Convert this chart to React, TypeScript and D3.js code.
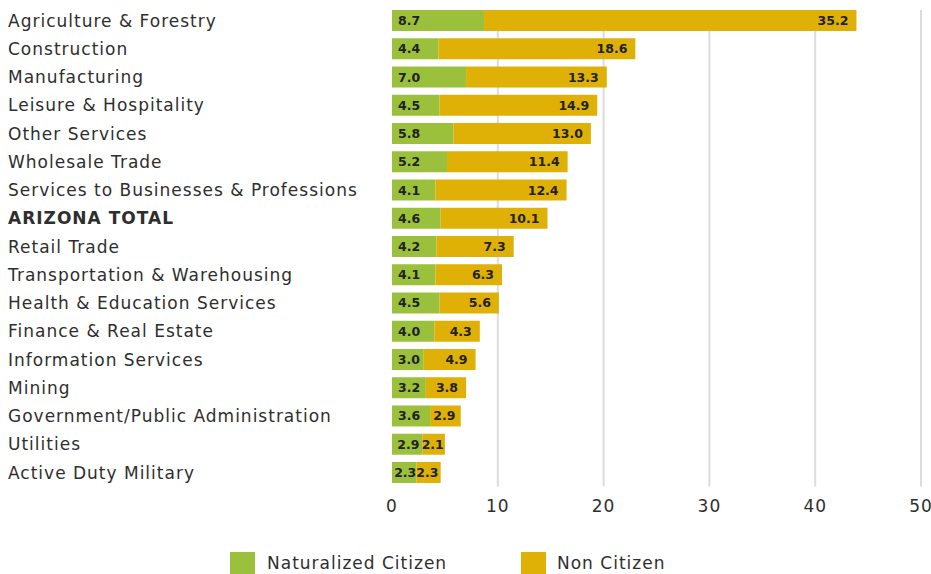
import React from 'react';
import * as d3 from 'd3';

const categories = [
  'Agriculture & Forestry',
  'Construction',
  'Manufacturing',
  'Leisure & Hospitality',
  'Other Services',
  'Wholesale Trade',
  'Services to Businesses & Professions',
  'ARIZONA TOTAL',
  'Retail Trade',
  'Transportation & Warehousing',
  'Health & Education Services',
  'Finance & Real Estate',
  'Information Services',
  'Mining',
  'Government/Public Administration',
  'Utilities',
  'Active Duty Military',
];
const naturalized = [8.7, 4.4, 7.0, 4.5, 5.8, 5.2, 4.1, 4.6, 4.2, 4.1, 4.5, 4.0, 3.0, 3.2, 3.6, 2.9, 2.3];
const nonCitizen = [35.2, 18.6, 13.3, 14.9, 13.0, 11.4, 12.4, 10.1, 7.3, 6.3, 5.6, 4.3, 4.9, 3.8, 2.9, 2.1, 2.3];
const xTicks = [0, 10, 20, 30, 40, 50];
const boldCategory = 'ARIZONA TOTAL';

const GREEN = '#9bc03b';
const GOLD = '#dfb006';
const TEXT = '#2e2e2e';
const FONT = '"DejaVu Sans", sans-serif';
const LABEL_W = 20; // approx width of a bar value label

export default function App() {
  const width = 931;
  const height = 574;

  const x = d3.scaleLinear().domain([0, 50]).range([392, 921]);
  const y = d3
    .scaleBand<string>()
    .domain(categories)
    .range([6.4, 486.6])
    .paddingInner(0.257)
    .paddingOuter(0.1285);
  const bh = y.bandwidth();

  return (
    <svg
      width={width}
      height={height}
      style={{ position: 'absolute', left: 0, top: 0, background: '#fff' }}
      fontFamily={FONT}
    >
      {/* gridlines */}
      {xTicks.slice(1).map((t) => (
        <line key={t} x1={x(t)} x2={x(t)} y1={y.range()[0] + 3.6} y2={y.range()[1]} stroke="#dcdcdc" strokeWidth={2} />
      ))}

      {categories.map((c, i) => {
        const y0 = y(c) ?? 0;
        const cy = y0 + bh / 2;
        const n = naturalized[i];
        const nc = nonCitizen[i];
        const gMid = (x(0) + x(n)) / 2;
        const oMid = (x(n) + x(n + nc)) / 2;
        const nStart = Math.min(x(0) + 6, gMid - LABEL_W / 2);
        const ncEnd = Math.max(x(n + nc) - 8, oMid + LABEL_W / 2);
        return (
          <g key={c}>
            <text
              x={8}
              y={cy}
              dy="0.36em"
              fontSize={17}
              letterSpacing={1}
              fill={TEXT}
              fontWeight={c === boldCategory ? 'bold' : 'normal'}
            >
              {c}
            </text>
            <rect x={x(0)} y={y0} width={x(n) - x(0)} height={bh} fill={GREEN} />
            <rect x={x(n)} y={y0} width={x(n + nc) - x(n)} height={bh} fill={GOLD} />
            <text x={nStart} y={cy} dy="0.36em" fontSize={12.5} fontWeight="bold" fill="#222">
              {n.toFixed(1)}
            </text>
            <text x={ncEnd} y={cy} dy="0.36em" fontSize={12.5} fontWeight="bold" fill="#222" textAnchor="end">
              {nc.toFixed(1)}
            </text>
          </g>
        );
      })}

      {/* x axis labels */}
      {xTicks.map((t) => (
        <text key={t} x={x(t)} y={506} dy="0.36em" textAnchor="middle" fontSize={17} letterSpacing={1} fill={TEXT}>
          {t}
        </text>
      ))}

      {/* legend */}
      <rect x={230} y={552} width={25} height={22} fill={GREEN} />
      <text x={267} y={563} dy="0.36em" fontSize={17} letterSpacing={1} fill={TEXT}>
        Naturalized Citizen
      </text>
      <rect x={521} y={552} width={25} height={22} fill={GOLD} />
      <text x={557} y={563} dy="0.36em" fontSize={17} letterSpacing={1} fill={TEXT}>
        Non Citizen
      </text>
    </svg>
  );
}
